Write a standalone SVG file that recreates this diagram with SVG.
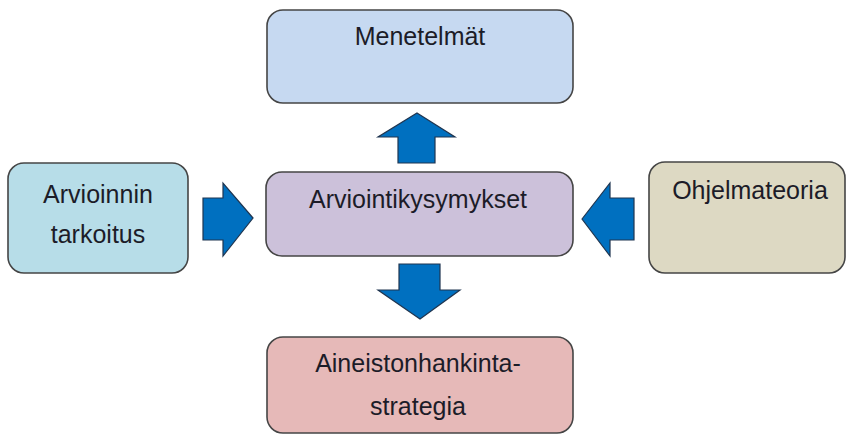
<svg xmlns="http://www.w3.org/2000/svg" width="847" height="435" viewBox="0 0 847 435">
<style>
.box{stroke:#454545;stroke-width:1.6}
.lbl{font-family:"Liberation Sans",Arial,sans-serif;font-size:25px;fill:#1c1c28;text-anchor:middle}
.arr{fill:#0070c0;stroke:#1f3550;stroke-width:1.2;stroke-linejoin:miter}
</style>
<rect width="847" height="435" fill="#ffffff"/>
<g id="menetelmat">
<rect class="box" x="267" y="10" width="306" height="93" rx="16" fill="#c6d9f1"/>
<text class="lbl" x="420" y="45">Menetelmät</text>
</g>
<g id="arvioinnin-tarkoitus">
<rect class="box" x="8" y="163" width="180" height="110" rx="16" fill="#b7dde8"/>
<text class="lbl" x="98" y="203">Arvioinnin</text>
<text class="lbl" x="98" y="243">tarkoitus</text>
</g>
<g id="arviointikysymykset">
<rect class="box" x="266" y="172" width="307" height="84" rx="16" fill="#ccc1da"/>
<text class="lbl" x="418" y="208">Arviointikysymykset</text>
</g>
<g id="ohjelmateoria">
<rect class="box" x="649" y="162" width="196" height="111" rx="16" fill="#ddd9c3"/>
<text class="lbl" x="750" y="199">Ohjelmateoria</text>
</g>
<g id="aineistonhankinta">
<rect class="box" x="267" y="337" width="306" height="96" rx="16" fill="#e6b9b8"/>
<text class="lbl" x="418" y="372">Aineistonhankinta-</text>
<text class="lbl" x="418" y="415">strategia</text>
</g>
<g id="connectors">
<polygon class="arr" points="417,113 455,137 435,137 435,163 398,163 398,137 378,137"/>
<polygon class="arr" points="420,319 460,290 440,290 440,264 399,264 399,290 378,290"/>
<polygon class="arr" points="253,218 223,183 223,198 203,198 203,240 223,240 223,256"/>
<polygon class="arr" points="582,219 610,183 610,198 634,198 634,240 610,240 610,256"/>
</g>
</svg>
